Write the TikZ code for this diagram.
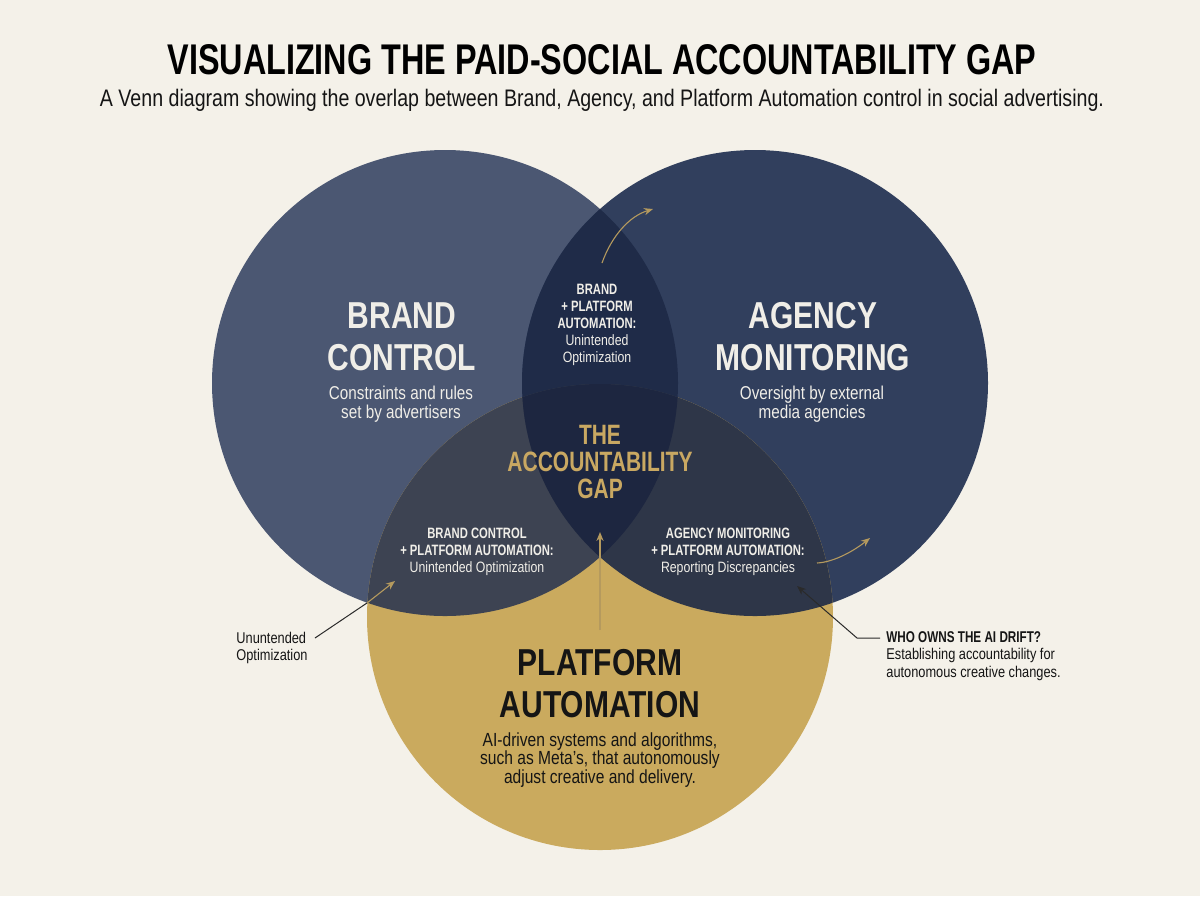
\documentclass[tikz,border=0pt]{standalone}
\usepackage{fontspec}
\setmainfont{Liberation Sans}[FakeStretch=0.82]
\newfontfamily\bcond{Liberation Sans}[FakeStretch=0.75]
\newfontfamily\bigf{Liberation Sans}[FakeStretch=0.8]
\newfontfamily\tfont{Liberation Sans}
\usetikzlibrary{arrows.meta}
\definecolor{bg}{HTML}{F4F1E9}
\definecolor{cB}{HTML}{4B5772}
\definecolor{cA}{HTML}{313F5D}
\definecolor{cP}{HTML}{CAAA5E}
\definecolor{cBA}{HTML}{1F2B48}
\definecolor{cBP}{HTML}{3D4352}
\definecolor{cAP}{HTML}{2E3648}
\definecolor{cBAP}{HTML}{1D2640}
\definecolor{light}{HTML}{F0EEE8}
\definecolor{gold}{HTML}{C9A862}
\definecolor{goldline}{HTML}{B59A5E}
\definecolor{ink}{HTML}{151515}
\definecolor{annline}{HTML}{2A2A2A}
\begin{document}
\begin{tikzpicture}[x=0.5pt,y=-0.5pt,
  big/.style={align=center,inner sep=0pt,font=\bigf\bfseries\fontsize{18.75}{21}\selectfont},
  sub/.style={align=center,inner sep=0pt,font=\fontsize{9.3}{9.2}\selectfont},
  small/.style={align=center,inner sep=0pt,font=\fontsize{7.5}{8.5}\selectfont},
  gap/.style={align=center,inner sep=0pt,text=gold,font=\bcond\bfseries\fontsize{14}{13.3}\selectfont},
  ann/.style={align=left,inner sep=0pt,anchor=west,text=ink,font=\fontsize{7.8}{8.6}\selectfont},
  goldarrow/.style={draw=goldline,line width=0.55pt,-{Stealth[length=4.5pt,width=3.6pt]}},
  darkarrow/.style={draw=annline,line width=0.5pt,-{Stealth[length=4.5pt,width=3.6pt]}}]
\fill[bg] (0,0) rectangle (1200,896);
\useasboundingbox (0,0) rectangle (1200,896);
% circles
\coordinate (Bc) at (445,383);
\coordinate (Ac) at (755,383);
\coordinate (Pc) at (600,617);
\fill[cB] (Bc) circle[radius=233];
\fill[cA] (Ac) circle[radius=233];
\fill[cP] (Pc) circle[radius=233];
\begin{scope}
  \clip (Bc) circle[radius=233];
  \fill[cBA] (Ac) circle[radius=233];
  \fill[cBP] (Pc) circle[radius=233];
\end{scope}
\begin{scope}
  \clip (Ac) circle[radius=233];
  \fill[cAP] (Pc) circle[radius=233];
\end{scope}
\begin{scope}
  \clip (Bc) circle[radius=233];
  \clip (Ac) circle[radius=233];
  \fill[cBAP] (Pc) circle[radius=233];
\end{scope}
% title
\node[inner sep=0pt,font=\tfont\bfseries\fontsize{20}{24}\selectfont,text=black] (title) at (602,60)
  {\resizebox{434.5pt}{15pt}{VISUALIZING THE PAID-SOCIAL ACCOUNTABILITY GAP}};
\node[inner sep=0pt,font=\fontsize{11}{13}\selectfont,text=ink] (subtitle) at (602,100)
  {\resizebox{502pt}{!}{A Venn diagram showing the overlap between Brand, Agency, and Platform Automation control in social advertising.}};
% main labels
\node[big,text=light] (brand) at (402,337) {BRAND\\CONTROL};
\node[sub,text=light] (brandsub) at (401,404) {Constraints and rules\\set by advertisers};
\node[big,text=light] (agency) at (813,337) {AGENCY\\MONITORING};
\node[sub,text=light] (agencysub) at (812,404) {Oversight by external\\media agencies};
\node[big,text=ink] (platform) at (600,684) {PLATFORM\\AUTOMATION};
\node[sub,text=ink,font=\fontsize{9.5}{9.3}\selectfont] (platformsub) at (600,760) {AI-driven systems and algorithms,\\such as Meta’s, that autonomously\\adjust creative and delivery.};
% overlap labels
\node[small,text=light] (ba) at (597,325) {{\bcond\bfseries BRAND}\\{\bcond\bfseries + PLATFORM}\\{\bcond\bfseries AUTOMATION:}\\Unintended\\Optimization};
\node[gap] (gaplbl) at (600,462) {THE\\ACCOUNTABILITY\\GAP};
\node[small,text=light] (bp) at (477,552) {{\bcond\bfseries BRAND CONTROL}\\{\bcond\bfseries + PLATFORM AUTOMATION:}\\Unintended Optimization};
\node[small,text=light] (ap) at (728,552) {{\bcond\bfseries AGENCY MONITORING}\\{\bcond\bfseries + PLATFORM AUTOMATION:}\\Reporting Discrepancies};
% annotations
\node[ann] (annL) at (236,648) {Ununtended\\Optimization};
\node[ann] (annR) at (886,656) {{\bcond\bfseries WHO OWNS THE AI DRIFT?}\\Establishing accountability for\\autonomous creative changes.};
% connectors
\coordinate (t1) at (602,263);
\coordinate (t2) at (653,209);
\draw[goldarrow] (t1) .. controls (612,235) and (630,216) .. (t2);
\coordinate (v0) at (600,630);
\coordinate (v1) at (600,532);
\draw[goldarrow,line width=0.7pt] (v0) -- (v1);
\coordinate (c0) at (817,563);
\coordinate (c1) at (870,538);
\draw[goldarrow] (c0) .. controls (835,562) and (855,550) .. (c1);
\coordinate (l0) at (315,638);
\coordinate (lx) at (367.4,602.7);
\coordinate (l1) at (395,581);
\draw[annline,line width=0.5pt] (l0) -- (lx);
\draw[goldarrow] (lx) -- (l1);
\coordinate (r0) at (880,638);
\coordinate (r1) at (857,638);
\coordinate (r2) at (797,586);
\draw[darkarrow] (r0) -- (r1) -- (r2);
\end{tikzpicture}
\end{document}
